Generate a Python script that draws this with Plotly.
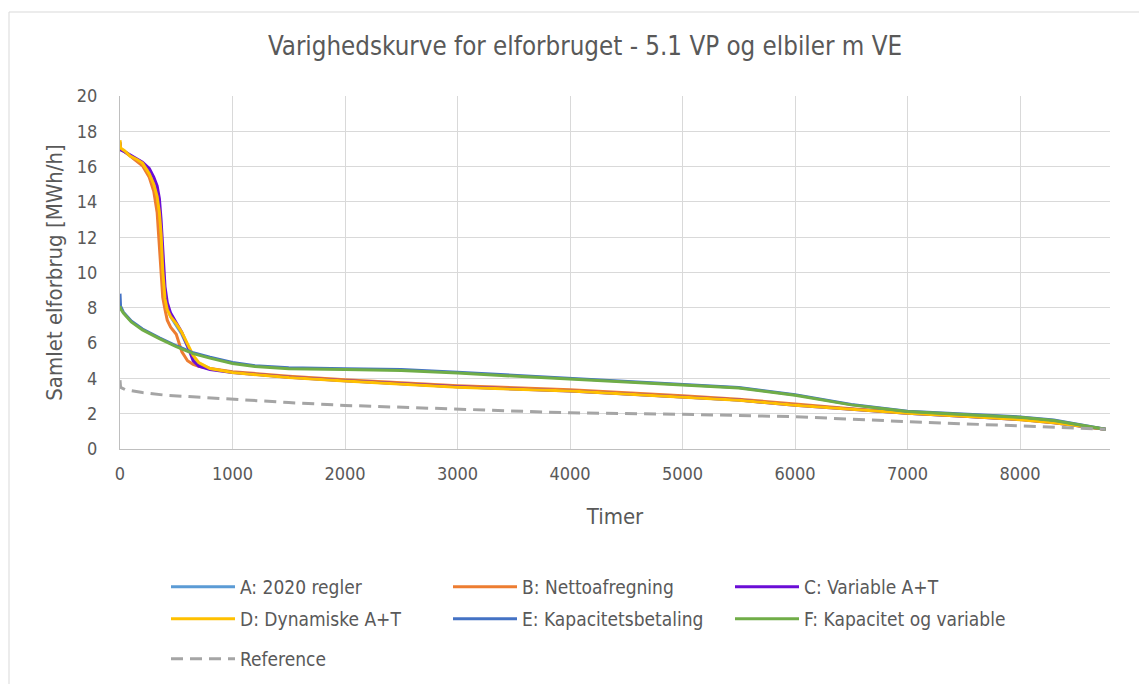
import plotly.graph_objects as go

# ---- data ----
hours_peak = [0, 5, 40, 90, 150, 200, 260, 300, 330, 350, 365, 380, 400, 420, 450,
              500, 550, 600, 650, 700, 800, 1000, 1500, 2000, 3000, 4000, 5000,
              5500, 6000, 6500, 7000, 7500, 8000, 8300, 8760]

a_2020 = [17.4, 17.0, 16.85, 16.6, 16.35, 16.15, 15.65, 15.0, 14.2, 13.3, 12.0, 10.2, 8.6,
          8.0, 7.5, 7.0, 6.5, 5.8, 5.2, 4.85, 4.55, 4.35, 4.08, 3.88, 3.53, 3.3, 2.98,
          2.78, 2.5, 2.25, 2.03, 1.86, 1.68, 1.5, 1.12]
b_netto = [17.4, 17.0, 16.85, 16.6, 16.3, 16.05, 15.4, 14.6, 13.4, 11.6, 10.0, 8.6, 7.9,
           7.3, 6.9, 6.5, 5.5, 5.0, 4.8, 4.68, 4.56, 4.38, 4.12, 3.92, 3.58, 3.36, 3.02,
           2.82, 2.55, 2.28, 2.06, 1.88, 1.7, 1.52, 1.12]
c_variable = [17.3, 16.95, 16.85, 16.65, 16.45, 16.25, 15.9, 15.4, 14.9, 14.2, 13.0, 11.0,
              9.2, 8.3, 7.7, 7.15, 6.6, 5.85, 5.0, 4.7, 4.5, 4.33, 4.07, 3.86, 3.52, 3.29,
              2.97, 2.77, 2.48, 2.24, 2.02, 1.85, 1.67, 1.49, 1.12]
d_dynamisk = [17.5, 17.05, 16.9, 16.6, 16.4, 16.2, 15.6, 15.0, 14.3, 13.4, 12.2, 10.1, 8.5,
              7.9, 7.5, 7.1, 6.6, 5.95, 5.3, 4.9, 4.56, 4.33, 4.05, 3.85, 3.5, 3.28, 2.96,
              2.76, 2.48, 2.23, 2.02, 1.85, 1.66, 1.48, 1.12]

hours_flat = [0, 5, 30, 100, 200, 350, 500, 650, 800, 1000, 1200, 1500, 2000, 2500, 3000,
              3500, 4000, 4500, 5000, 5500, 6000, 6500, 7000, 7500, 8000, 8300, 8500, 8760]

e_kapacitet = [8.8, 8.1, 7.75, 7.25, 6.8, 6.3, 5.85, 5.45, 5.2, 4.9, 4.72, 4.6, 4.55, 4.5,
               4.35, 4.17, 4.0, 3.84, 3.66, 3.49, 3.08, 2.52, 2.14, 1.97, 1.82, 1.64, 1.42, 1.12]
f_kap_var = [8.1, 7.95, 7.7, 7.2, 6.75, 6.25, 5.8, 5.4, 5.15, 4.85, 4.68, 4.55, 4.5, 4.45,
             4.3, 4.12, 3.96, 3.8, 3.62, 3.45, 3.05, 2.5, 2.12, 1.95, 1.8, 1.62, 1.4, 1.12]

hours_ref = [0, 5, 50, 200, 400, 640, 1000, 1500, 2000, 3000, 4000, 5000, 6000, 7000, 8000, 8760]
reference = [3.9, 3.5, 3.35, 3.2, 3.05, 2.95, 2.8, 2.63, 2.47, 2.27, 2.05, 1.97, 1.83, 1.55, 1.3, 1.12]

FONT = "Liberation Sans Narrow, DejaVu Sans Condensed, Arial Narrow, sans-serif"
GREY_TXT = "#595959"

series = [
    ("A: 2020 regler", hours_peak, a_2020, "#5B9BD5", "legend"),
    ("B: Nettoafregning", hours_peak, b_netto, "#ED7D31", "legend"),
    ("C: Variable A+T", hours_peak, c_variable, "#6A0DD6", "legend"),
    ("D: Dynamiske A+T", hours_peak, d_dynamisk, "#FFC000", "legend2"),
    ("E: Kapacitetsbetaling", hours_flat, e_kapacitet, "#4472C4", "legend2"),
    ("F: Kapacitet og variable", hours_flat, f_kap_var, "#70AD47", "legend2"),
]

fig = go.Figure()
for name, xs, ys, col, leg in series:
    fig.add_trace(go.Scatter(x=xs, y=ys, mode="lines", name=name,
                             line=dict(color=col, width=3), legend=leg))
fig.add_trace(go.Scatter(x=hours_ref, y=reference, mode="lines", name="Reference",
                         line=dict(color="#A5A5A5", width=3, dash="12px,7px"), legend="legend3"))

# the page body adds ~8px, so figure coords = screen px - 8
W, H = 1147, 684
OFF = 8
L, T = 120 - OFF, 96 - OFF
pw, ph = 990, 353
R, B = W - L - pw, H - T - ph

def px_x(p):
    return (p - OFF - L) / pw

def px_y(p):
    return (T + ph - (p - OFF)) / ph

leg_common = dict(orientation="h", xref="container", yref="container",
                  xanchor="left", yanchor="middle", entrywidth=203, itemwidth=64,
                  font=dict(family=FONT, size=19, color=GREY_TXT), bgcolor="rgba(0,0,0,0)")

fig.update_layout(
    width=W, height=H,
    margin=dict(l=L, r=R, t=T, b=B),
    paper_bgcolor="white", plot_bgcolor="white",
    font=dict(family=FONT, color=GREY_TXT),
    title=dict(text="Varighedskurve for elforbruget - 5.1 VP og elbiler m VE",
               x=577 / W, xanchor="center", y=1 - 38 / H, yanchor="middle",
               font=dict(family=FONT, size=25.7, color=GREY_TXT)),
    legend=dict(x=158 / W, y=1 - 579 / H, **leg_common),
    legend2=dict(x=158 / W, y=1 - 611 / H, **leg_common),
    legend3=dict(x=158 / W, y=1 - 651 / H, **leg_common),
    shapes=[dict(type="rect", xref="paper", yref="paper",
                 x0=px_x(9), x1=px_x(1170), y0=px_y(720), y1=px_y(12),
                 line=dict(color="#D9D9D9", width=1), fillcolor="rgba(0,0,0,0)", layer="below")],
)
fig.update_xaxes(range=[0, 8800], dtick=1000, tick0=0, showgrid=True, gridcolor="#D9D9D9",
                 gridwidth=1, showline=True, linecolor="#BFBFBF", linewidth=1, zeroline=False,
                 automargin=False,
                 tickfont=dict(family=FONT, size=18, color=GREY_TXT), ticklabelstandoff=8,
                 title=dict(text="Timer", font=dict(family=FONT, size=22, color=GREY_TXT), standoff=26))
fig.update_yaxes(range=[0, 20], dtick=2, showgrid=True, gridcolor="#D9D9D9", gridwidth=1,
                 showline=True, linecolor="#BFBFBF", linewidth=1, zeroline=False,
                 automargin=False,
                 tickfont=dict(family=FONT, size=18, color=GREY_TXT), ticklabelstandoff=18,
                 title=dict(text="Samlet elforbrug [MWh/h]",
                            font=dict(family=FONT, size=22, color=GREY_TXT), standoff=8))

fig.write_html("out.html")
